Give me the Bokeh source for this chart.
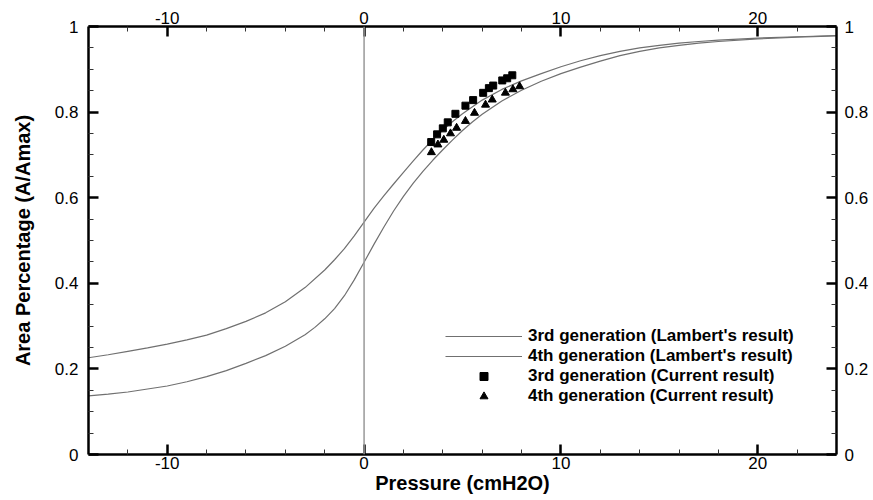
from bokeh.plotting import figure
from bokeh.models import (LinearAxis, Range1d, Span, Legend, LegendItem,
                          FixedTicker, CustomJSTickFormatter)
from bokeh.embed import file_html
from bokeh.resources import INLINE

# ---- data ----
# Lambert's result, 3rd generation
lam3_p = [-14, -13, -12, -11, -10, -9, -8, -7, -6, -5, -4, -3, -2, -1.5, -1, -0.5,
          0, 0.5, 1, 1.5, 2, 2.5, 3, 3.5, 4, 4.5, 5, 6, 7, 8, 9, 10, 11, 12, 13,
          14, 15, 16, 17, 18, 20, 22, 24]
lam3_a = [0.226, 0.233, 0.241, 0.249, 0.258, 0.268, 0.279, 0.294, 0.311, 0.331,
          0.357, 0.390, 0.431, 0.455, 0.481, 0.511, 0.543, 0.575, 0.604, 0.632,
          0.659, 0.686, 0.712, 0.736, 0.758, 0.778, 0.796, 0.828, 0.853, 0.873,
          0.890, 0.906, 0.920, 0.932, 0.942, 0.950, 0.956, 0.961, 0.965, 0.968,
          0.973, 0.976, 0.979]
# Lambert's result, 4th generation
lam4_p = [-14, -13, -12, -11, -10, -9, -8, -7, -6, -5, -4, -3, -2.5, -2, -1.5, -1,
          -0.5, 0, 0.5, 1, 1.5, 2, 2.5, 3, 3.5, 4, 4.5, 5, 5.5, 6, 7, 8, 9, 10,
          11, 12, 13, 14, 15, 16, 17, 18, 20, 22, 24]
lam4_a = [0.137, 0.141, 0.146, 0.153, 0.160, 0.170, 0.182, 0.196, 0.213, 0.231,
          0.253, 0.280, 0.297, 0.317, 0.341, 0.371, 0.408, 0.449, 0.491, 0.531,
          0.569, 0.603, 0.634, 0.662, 0.688, 0.712, 0.735, 0.757, 0.777, 0.795,
          0.826, 0.851, 0.872, 0.890, 0.905, 0.919, 0.932, 0.942, 0.950, 0.956,
          0.961, 0.965, 0.971, 0.975, 0.978]
# Current result, 3rd generation
cur3_p = [3.41, 3.71, 4.00, 4.25, 4.64, 5.15, 5.54, 6.05, 6.34, 6.56, 7.02, 7.27, 7.53]
cur3_a = [0.730, 0.748, 0.762, 0.776, 0.796, 0.815, 0.828, 0.845, 0.856, 0.862,
          0.874, 0.879, 0.886]
# Current result, 4th generation
cur4_p = [3.42, 3.75, 4.05, 4.39, 4.70, 5.15, 5.61, 6.17, 6.51, 7.18, 7.56, 7.90]
cur4_a = [0.706, 0.724, 0.735, 0.750, 0.763, 0.779, 0.798, 0.817, 0.829, 0.845,
          0.853, 0.860]

x_major = [-10, 0, 10, 20]
x_minor = [-12, -8, -6, -4, -2, 2, 4, 6, 8, 12, 14, 16, 18, 22]
y_major = [0, 0.2, 0.4, 0.6, 0.8, 1.0]
y_minor = [0.05, 0.1, 0.15, 0.25, 0.3, 0.35, 0.45, 0.5, 0.55, 0.65, 0.7, 0.75,
           0.85, 0.9, 0.95]

labels = ["3rd generation (Lambert's result)", "4th generation (Lambert's result)",
          "3rd generation (Current result)", "4th generation (Current result)"]

FONT = "Liberation Sans"

p = figure(width=873, height=500, x_range=Range1d(-14, 24), y_range=Range1d(0, 1),
           output_backend="svg", toolbar_location=None,
           min_border_left=88, min_border_right=37, min_border_top=26,
           min_border_bottom=46)
p.xgrid.visible = False
p.ygrid.visible = False
p.outline_line_color = None
p.background_fill_color = "white"
p.border_fill_color = "white"

fmt_code = "return String(Math.round(tick*10)/10);"

def style(ax, ticks, minors):
    ax.ticker = FixedTicker(ticks=ticks, minor_ticks=minors)
    ax.formatter = CustomJSTickFormatter(code=fmt_code)
    ax.axis_line_width = 2.5
    ax.axis_line_color = "black"
    ax.major_tick_line_width = 2.5
    ax.major_tick_line_color = "black"
    ax.major_tick_in = 10
    ax.major_tick_out = 0
    ax.minor_tick_in = 5
    ax.minor_tick_out = 0
    ax.minor_tick_line_width = 1
    ax.minor_tick_line_color = "#333333"
    ax.major_label_text_font = FONT
    ax.major_label_text_font_size = "17px"
    ax.major_label_text_color = "black"
    ax.axis_label_text_font = FONT
    ax.axis_label_text_font_style = "bold"
    ax.axis_label_text_font_size = "20px"
    ax.axis_label_text_color = "black"

bx = p.xaxis[0]
style(bx, x_major, x_minor)
bx.axis_label = "Pressure (cmH2O)"
bx.major_label_standoff = 2
bx.axis_label_standoff = 0

ly = p.yaxis[0]
style(ly, y_major, y_minor)
ly.axis_label = "Area Percentage (A/Amax)"
ly.major_label_standoff = 10
ly.axis_label_standoff = 18

tx = LinearAxis()
style(tx, x_major, x_minor)
tx.major_label_standoff = 3
p.add_layout(tx, "above")

ry = LinearAxis()
style(ry, y_major, y_minor)
ry.major_label_standoff = 8
p.add_layout(ry, "right")

p.add_layout(Span(location=0, dimension="height", line_color="#999999", line_width=1.5))

r1 = p.line(lam3_p, lam3_a, line_color="#707070", line_width=1.2)
r2 = p.line(lam4_p, lam4_a, line_color="#707070", line_width=1.2)
r3 = p.scatter(cur3_p, cur3_a, marker="square", size=7, color="black")
r4 = p.scatter(cur4_p, cur4_a, marker="triangle", size=8, color="black")

legend = Legend(items=[LegendItem(label=labels[0], renderers=[r1]),
                       LegendItem(label=labels[1], renderers=[r2]),
                       LegendItem(label=labels[2], renderers=[r3]),
                       LegendItem(label=labels[3], renderers=[r4])],
                location=(357, 48), border_line_color=None,
                background_fill_alpha=0, glyph_width=77, glyph_height=20,
                label_height=20, spacing=0, padding=0, margin=0,
                label_standoff=6, label_text_font=FONT,
                label_text_font_style="bold", label_text_font_size="17px",
                label_text_color="black")
p.add_layout(legend)

open("out.html", "w").write(file_html(p, INLINE))
